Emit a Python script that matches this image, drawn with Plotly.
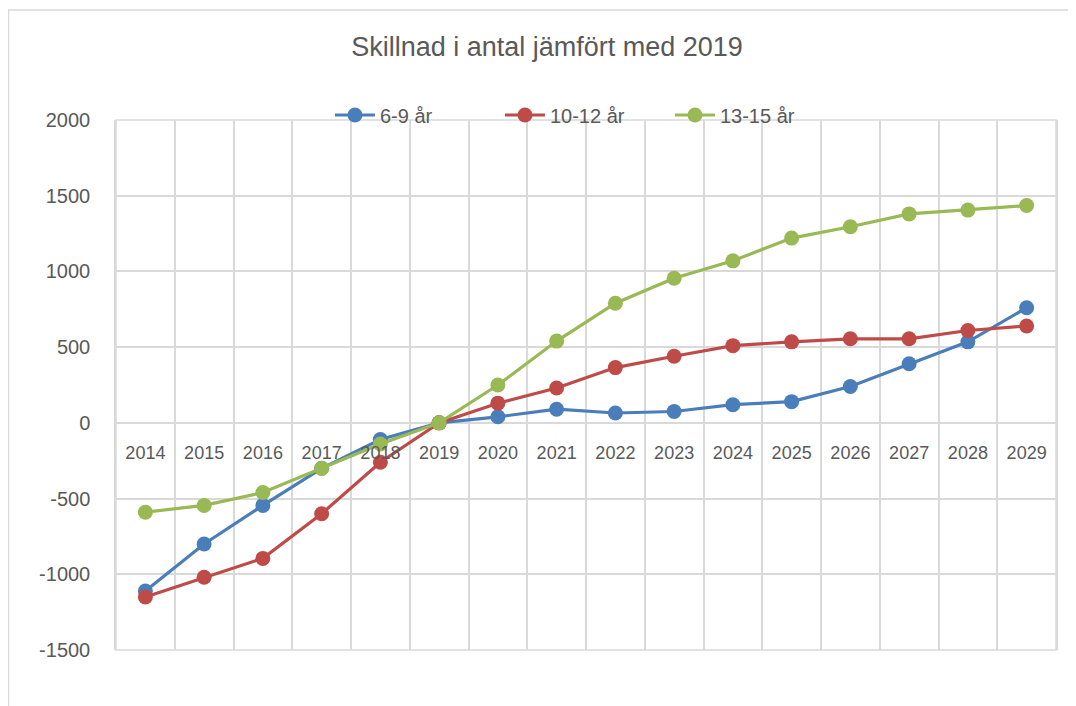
import plotly.graph_objects as go

years = [str(y) for y in range(2014, 2030)]
s_6_9 = [-1110, -800, -545, -300, -110, 0, 40, 90, 65, 75, 120, 140, 240, 390, 535, 760]
s_10_12 = [-1150, -1020, -895, -600, -260, 0, 130, 230, 365, 440, 510, 535, 555, 555, 610, 640]
s_13_15 = [-590, -545, -460, -300, -140, 0, 250, 540, 790, 955, 1070, 1220, 1295, 1380, 1405, 1435]
names = ["6-9 år", "10-12 år", "13-15 år"]
colors = ["#4A7EBB", "#BE4B48", "#98B954"]
y_ticks = [-1500, -1000, -500, 0, 500, 1000, 1500, 2000]
y_ticktext = [str(v) for v in y_ticks]

FONT = "Liberation Sans"
TXT = "#595959"
GRID = "#D9D9D9"

fig = go.Figure()
for name, vals, col in zip(names, [s_6_9, s_10_12, s_13_15], colors):
    fig.add_trace(go.Scatter(
        x=years, y=vals, name=name, mode="lines+markers",
        line=dict(color=col, width=3.2),
        marker=dict(color=col, size=15),
    ))

ymin, ymax = -1500, 2000
zero_pos = (0 - ymin) / (ymax - ymin)

# page body adds ~8px offset; margins compensate
L, R, T, B = 108, 28, 112, 64
PW, PH = 1076 - L - R, 706 - T - B

fig.update_layout(
    width=1076, height=706,
    margin=dict(l=L, r=R, t=T, b=B, autoexpand=False),
    paper_bgcolor="white", plot_bgcolor="white",
    font=dict(family=FONT, color=TXT, size=18),
    title=dict(text="Skillnad i antal jämfört med 2019", x=539 / 1076, xanchor="center",
               y=1 - 39 / 706, yanchor="middle", font=dict(size=27, color=TXT)),
    legend=dict(orientation="h", x=0.4989, xanchor="center", y=1 + 5 / PH,
                yanchor="middle", bgcolor="rgba(0,0,0,0)", font=dict(size=20, color=TXT),
                itemwidth=40, entrywidth=115, entrywidthmode="pixels"),
    xaxis=dict(type="category", range=[-0.5, 15.5], tickson="boundaries", showgrid=True,
               gridcolor=GRID, gridwidth=1.5, anchor="free", position=zero_pos,
               showline=False, ticks="", ticklabelstandoff=17, automargin=False,
               tickfont=dict(size=18, color=TXT), zeroline=False),
    yaxis=dict(range=[ymin, ymax], tickvals=y_ticks, ticktext=y_ticktext, showgrid=True,
               gridcolor=GRID, gridwidth=1.5, zeroline=False, showline=True, mirror=True,
               linecolor=GRID, linewidth=1.5, ticks="", ticklabelstandoff=20,
               automargin=False, tickfont=dict(size=20, color=TXT)),
    showlegend=True,
)

# plot-area frame
fig.add_shape(type="rect", xref="paper", yref="paper", x0=0, x1=1, y0=0, y1=1,
              line=dict(color=GRID, width=1.5), layer="below")
# outer chart border
fig.add_shape(type="rect", xref="paper", yref="paper",
              x0=(0.5 - L) / PW, x1=(1100 - L) / PW,
              y0=(706 - B - 730) / PH, y1=(706 - B - 2) / PH,
              line=dict(color="#D9D9D9", width=1.5), layer="below")

fig.write_html("out.html")
